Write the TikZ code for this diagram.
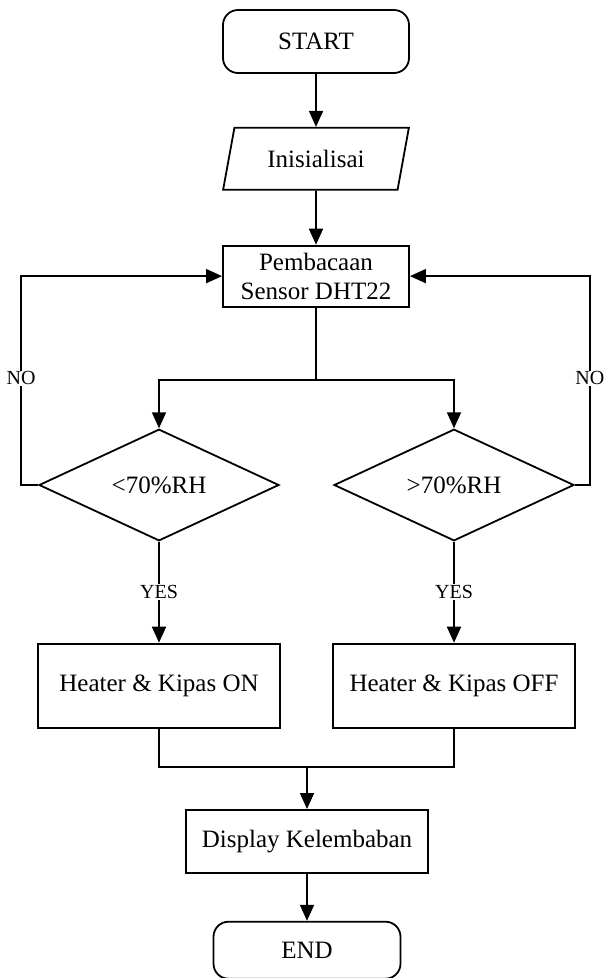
\documentclass[tikz,border=0pt]{standalone}
\usepackage{fontspec}
\setmainfont{Liberation Serif}
\usepackage{tikz}
\usetikzlibrary{shapes.geometric, arrows.meta, positioning}

\begin{document}
\begin{tikzpicture}[
  x=1pt, y=-1pt,
  line width=1.8pt,
  >={Triangle[length=16pt, width=14pt]},
  base/.style={draw, align=center, inner sep=2pt, font=\fontsize{25}{29}\selectfont},
  term/.style={base, rectangle, rounded corners=15pt, minimum width=186pt, minimum height=63pt},
  proc/.style={base, rectangle, minimum width=186pt, minimum height=61pt},
  io/.style={base, trapezium, trapezium left angle=72, trapezium right angle=108,
    trapezium stretches=true, minimum width=186pt, minimum height=62pt},
  dec/.style={base, diamond, inner sep=0pt, minimum width=240pt, minimum height=109pt},
  act/.style={proc, minimum width=242pt, minimum height=84pt},
  lbl/.style={fill=white, inner sep=1pt, font=\fontsize{20}{24}\selectfont},
]
  \useasboundingbox (0,0) rectangle (604,978);

  \node[term] (start) at (316,41.5) {START};
  \node[io, below=53pt of start] (init) {Inisialisai};
  \node[proc, below=54pt of init] (sensor) {Pembacaan\\ Sensor DHT22};
  \coordinate (split) at (316,380);

  \node[dec] (cek1) at (159,485) {<70\%RH};
  \node[dec] (cek2) at (454,485) {>70\%RH};
  \node[act, below=101pt of cek1] (on) {Heater \& Kipas ON};
  \node[act, below=101pt of cek2] (off) {Heater \& Kipas OFF};

  \coordinate (join) at (307,767);
  \node[act, below=42pt of join, minimum height=63pt] (disp) {Display Kelembaban};
  \node[term, below=47pt of disp, minimum width=187pt, minimum height=57pt] (end) {END};

  \draw[->] (start) -- (init);
  \draw[->] (init) -- (sensor);
  \draw (sensor.south) -- (split);
  \draw[->] (split) -| (cek1.north);
  \draw[->] (split) -| (cek2.north);
  \draw[->] (cek1.west) -- ++(-17,0) |- node[lbl, pos=0.255] {NO} (sensor.west);
  \draw[->] (cek2.east) -- ++(15,0) |- node[lbl, pos=0.255] {NO} (sensor.east);
  \draw[->] (cek1) -- node[lbl] {YES} (on);
  \draw[->] (cek2) -- node[lbl] {YES} (off);
  \draw (on.south) |- (join);
  \draw (off.south) |- (join);
  \draw[->] (join) -- (disp);
  \draw[->] (disp) -- (end);
\end{tikzpicture}
\end{document}
